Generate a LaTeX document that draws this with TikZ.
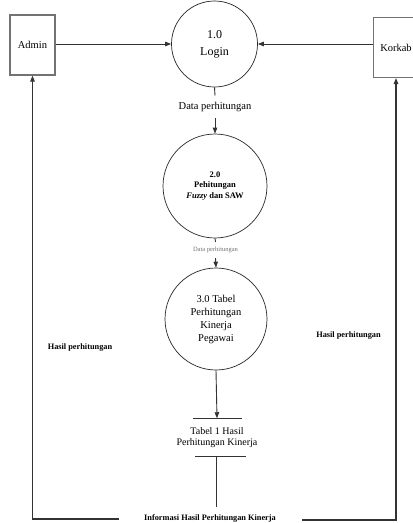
\documentclass[tikz,border=0pt]{standalone}
\usepackage{fontspec}
\setmainfont{Liberation Serif}
\usetikzlibrary{arrows.meta}
\begin{document}
\begin{tikzpicture}[x=1pt,y=-1pt,
  entity/.style={draw=black!55,line width=1.1pt,minimum width=45pt,minimum height=60pt,
    inner sep=0pt,font=\fontsize{10.5}{12}\selectfont},
  proc/.style={circle,draw=black!85,line width=0.7pt,inner sep=0pt,align=center},
  flow/.style={draw=black!80,line width=0.9pt},
  arr/.style={flow,-{Triangle[length=6pt,width=4.5pt]}},
  lbl/.style={inner xsep=1pt,align=center},
  small/.style={font=\fontsize{8.3}{9}\selectfont\bfseries}]
\useasboundingbox (0,0) rectangle (413,523);
\clip (0,0) rectangle (413,523);

% external entities
\node[entity] (admin) at (32.5,45) {Admin};
\node[entity] (korkab) at (396,47.5) {Korkab};

% processes
\node[proc,minimum size=86pt,font=\fontsize{12}{17}\selectfont] (c1) at (214.5,44) {1.0\\Login};
\node[proc,minimum size=104pt,font=\fontsize{8.5}{10.5}\selectfont\bfseries] (c2) at (215,186)
  {2.0\\Pehitungan\\\textit{Fuzzy} dan SAW};
\node[proc,minimum size=102pt,font=\fontsize{10.5}{13}\selectfont] (c3) at (216,319)
  {3.0 Tabel\\Perhitungan\\Kinerja\\Pegawai};

% data store
\node[lbl,inner ysep=9pt,font=\fontsize{10}{11}\selectfont] (store) at (217,437.5)
  {Tabel 1 Hasil\\Perhitungan Kinerja};
\draw[flow] ([xshift=-24pt]store.north) -- ([xshift=25pt]store.north);
\draw[flow] ([xshift=-22pt]store.south) -- ([xshift=29pt]store.south);

% flow labels
\node[lbl,inner ysep=6.5pt,font=\fontsize{10.5}{12}\selectfont] (d1) at (215,107) {Data perhitungan};
\node[lbl,inner ysep=5pt,text=black!55,font=\fontsize{6.5}{7}\selectfont] (d2) at (215.5,250) {Data perhitungan};
\node[small] (hk) at (80,348) {Hasil perhitungan};
\node[small] (hr) at (348.5,336) {Hasil perhitungan};
\node[small] (info) at (210,518) {Informasi Hasil Perhitungan Kinerja};

% login flows
\draw[arr] (admin.east |- c1.west) -- (c1.west);
\draw[arr] (korkab.west |- c1.east) -- (c1.east);

% processing chain
\draw[flow] (c1.south) -- (d1.north);
\draw[arr] (d1.south) -- (c2.north);
\draw[flow] (c2.south) -- (d2.north);
\draw[arr] (d2.south) -- (c3.north);
\draw[arr] (c3.south) -- (store.north);

% report flows back to the entities
\coordinate (sdown) at (216,507);
\draw[flow] (store.south -| sdown) -- (sdown);
\coordinate (bl1) at (119,519);
\coordinate (bl) at (32.5,519);
\coordinate (br1) at (302,520);
\coordinate (br) at (396,520);
\draw[arr,line width=1.2pt] (bl1) -- (bl) -- (admin.south);
\draw[arr,line width=1.2pt] (br1) -- (br) -- (korkab.south);
\end{tikzpicture}
\end{document}
